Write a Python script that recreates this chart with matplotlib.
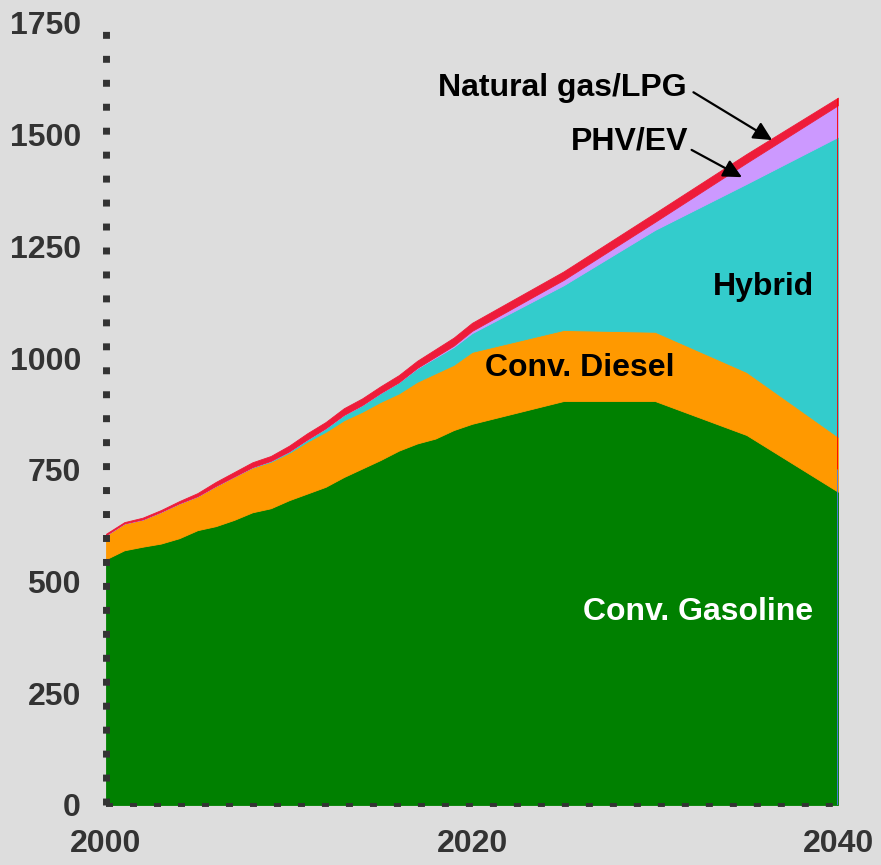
import matplotlib.pyplot as plt

# Vehicle stock by powertrain, 2000-2040 (stacked)
years = [2000, 2001, 2002, 2003, 2004, 2005, 2006, 2007, 2008, 2009, 2010,
         2011, 2012, 2013, 2014, 2015, 2016, 2017, 2018, 2019, 2020,
         2025, 2030, 2035, 2040]
gasoline = [550, 570, 578, 585, 597, 615, 624, 638, 655, 664, 682,
            697, 712, 734, 753, 772, 793, 809, 820, 839, 853,
            904, 904, 828, 701]
diesel = [54, 60, 61, 71, 78, 76, 90, 97, 100, 104, 106,
          116, 123, 127, 127, 130, 128, 138, 146, 146, 161,
          159, 155, 141, 123]
hybrid = [0, 0, 0, 0, 0, 0, 0, 0, 1, 2, 3,
          5, 8, 12, 15, 20, 25, 30, 35, 40, 42,
          100, 228, 421, 671]
phv_ev = [0, 0, 0, 0, 0, 0, 0, 0, 0, 0, 0,
          0, 0, 0, 0, 0, 0, 1, 2, 3, 5,
          12, 18, 47, 71]
natgas = [3, 3, 4, 4, 5, 7, 9, 10, 11, 11, 13,
          14, 14, 15, 15, 15, 16, 16, 17, 18, 18,
          19, 20, 20, 17]

colors = ['#008000', '#ff9900', '#33cccc', '#cc99ff', '#ee1c3a']
bg = '#dddddd'
txt = '#333333'

plt.rcParams['font.family'] = ['Liberation Sans', 'DejaVu Sans']
plt.rcParams['font.weight'] = 'bold'

fig = plt.figure(figsize=(8.81, 8.65), dpi=100, facecolor=bg)
ax = fig.add_axes([106 / 881, 1 - 805 / 865, 732 / 881, 782 / 865])
ax.set_facecolor(bg)

ax.stackplot(years, gasoline, diesel, hybrid, phv_ev, natgas,
             colors=colors, linewidth=0.6, edgecolor='face')

# coloured right edge of the stack
total_end = gasoline[-1] + diesel[-1] + hybrid[-1] + phv_ev[-1] + natgas[-1]
ax.plot([2040, 2040], [0, 752], color='#4a78f0', lw=2, solid_capstyle='butt', zorder=3)
ax.plot([2040, 2040], [752, total_end], color='#ff0000', lw=2, solid_capstyle='butt', zorder=3)

ax.set_xlim(2000, 2040)
ax.set_ylim(0, 1750)
ax.set_xticks([2000, 2020, 2040])
ax.set_yticks(range(0, 1751, 250))
ax.tick_params(axis='both', length=0, colors=txt, labelsize=23)
ax.tick_params(axis='x', pad=17)
ax.tick_params(axis='y', pad=18)

for s in ['top', 'right']:
    ax.spines[s].set_visible(False)
ax.spines['left'].set_color(txt)
ax.spines['left'].set_linewidth(5)
ax.spines['left'].set_linestyle((0, (1, 2.45)))
ax.spines['left'].set_capstyle('butt')
ax.spines['bottom'].set_color(txt)
ax.spines['bottom'].set_linewidth(2.8)
ax.spines['bottom'].set_linestyle((0, (1.8, 4.37)))
ax.spines['bottom'].set_capstyle('butt')
ax.spines['left'].set_zorder(4)
ax.spines['bottom'].set_zorder(4)

# labels inside the areas
ax.text(2035.9, 1159, 'Hybrid', fontsize=23, ha='center', va='center', color='black')
ax.text(2025.9, 978, 'Conv. Diesel', fontsize=23, ha='center', va='center', color='black')
ax.text(2032.35, 432, 'Conv. Gasoline', fontsize=23, ha='center', va='center', color='white')

# callouts
ax.text(2031.75, 1604, 'Natural gas/LPG', fontsize=23, ha='right', va='center', color='black')
ax.text(2031.8, 1484, 'PHV/EV', fontsize=23, ha='right', va='center', color='black')
arrow = dict(arrowstyle='-|>', color='black', lw=1.6, mutation_scale=28,
             shrinkA=0, shrinkB=0)
ax.annotate('', xy=(2036.4, 1488), xytext=(2032.1, 1595), arrowprops=arrow)
ax.annotate('', xy=(2034.75, 1405), xytext=(2032.0, 1466), arrowprops=arrow)

fig.savefig('out.png', dpi=100, facecolor=bg)
